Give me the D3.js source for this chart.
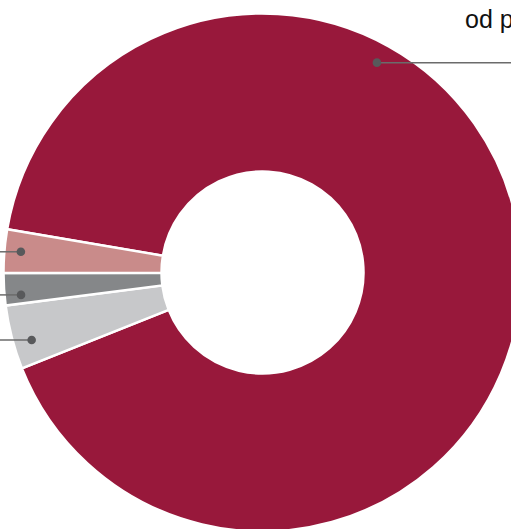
<!DOCTYPE html>
<html>
<head>
<meta charset="utf-8">
<script src="https://cdn.jsdelivr.net/npm/d3@7/dist/d3.min.js"></script>
<style>
  html, body { margin: 0; padding: 0; background: #fff; overflow: hidden; }
  svg { display: block; }
</style>
</head>
<body>
<svg id="chart" width="511" height="529"></svg>
<script>
// ---- data ----
const categories = ["od pracodawcy", "inne źródła", "stypendium", "od rodziny"];
const values = [91.3, 4.0, 2.0, 2.7];
const colors = ["#98183b", "#c7c8ca", "#858789", "#c98b8a"];

// ---- layout ----
const W = 511, H = 529;
const cx = 262.5, cy = 272.5;
const outerR = 259, innerR = 101;
const startDeg = -80.4;
const calloutDeg = [28.6, 253.7, 264.7, 274.9]; // callout anchor angles (label layout)
const calloutR = [239, 240.5, 242.5, 242.5];

const svg = d3.select("#chart");
const g = svg.append("g").attr("transform", `translate(${cx},${cy})`);

const pie = d3.pie().sort(null).value(d => d)
  .startAngle(startDeg * Math.PI / 180)
  .endAngle((startDeg + 360) * Math.PI / 180);
const arcs = pie(values);
const arc = d3.arc().innerRadius(innerR).outerRadius(outerR);

g.selectAll("path.slice").data(arcs).join("path")
  .attr("class", "slice")
  .attr("d", arc)
  .attr("fill", (d, i) => colors[i])
  .attr("stroke", "#fff")
  .attr("stroke-width", 2.5)
  .attr("stroke-linejoin", "miter");

// callouts
arcs.forEach((d, i) => {
  const a = calloutDeg[i] * Math.PI / 180;
  const r = calloutR[i];
  const x = r * Math.sin(a), y = -r * Math.cos(a);
  const right = Math.sin(a) > 0;
  const xEnd = right ? (W - cx) + 5 : -cx - 5;
  g.append("line")
    .attr("x1", x).attr("y1", y).attr("x2", xEnd).attr("y2", y)
    .attr("stroke", "#6b6b6b").attr("stroke-width", 1.5);
  g.append("circle")
    .attr("cx", x).attr("cy", y).attr("r", 4.3)
    .attr("fill", "#58595b");
});

// visible label (top-right, clipped by the frame as in the reference)
svg.append("text")
  .attr("x", 465).attr("y", 27.5)
  .attr("font-family", "'Liberation Sans', Arial, sans-serif")
  .attr("font-size", 25)
  .attr("fill", "#111")
  .text(categories[0]);
</script>
</body>
</html>
